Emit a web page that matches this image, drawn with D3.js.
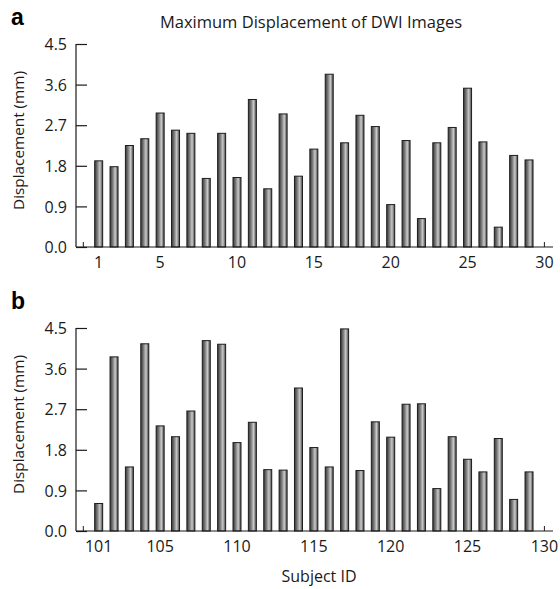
<!DOCTYPE html>
<html>
<head>
<meta charset="utf-8">
<script src="https://cdn.jsdelivr.net/npm/d3@7"></script>
<style>
  body { margin: 0; background: #fff; }
  svg text { font-family: "Open Sans", sans-serif; fill: #1a1a1a; }
</style>
</head>
<body>
<svg id="chart" width="560" height="589"></svg>
<script>
// subject ids 1..29 and 101..129
const idsA = d3.range(1, 30);
const valuesA = [1.91, 1.78, 2.25, 2.40, 2.97, 2.59, 2.52, 1.52, 2.52, 1.54,
                 3.27, 1.29, 2.95, 1.57, 2.17, 3.83, 2.31, 2.92, 2.67, 0.94,
                 2.36, 0.63, 2.31, 2.65, 3.52, 2.33, 0.44, 2.03, 1.93];
const idsB = d3.range(101, 130);
const valuesB = [0.61, 3.86, 1.42, 4.15, 2.33, 2.09, 2.66, 4.22, 4.14, 1.96,
                 2.41, 1.36, 1.35, 3.17, 1.85, 1.42, 4.48, 1.34, 2.42, 2.08,
                 2.81, 2.82, 0.94, 2.09, 1.59, 1.31, 2.05, 0.70, 1.31];
const yTicks = [0, 0.9, 1.8, 2.7, 3.6, 4.5];
const xTicksA = [1, 5, 10, 15, 20, 25, 30];
const xTicksB = [101, 105, 110, 115, 120, 125, 130];

const svg = d3.select("#chart");

// cylinder-like shading for the bars
const grad = svg.append("defs").append("linearGradient")
    .attr("id", "barShade")
    .attr("x1", "0%").attr("x2", "100%");
grad.append("stop").attr("offset", "0%").attr("stop-color", "#363636");
grad.append("stop").attr("offset", "35%").attr("stop-color", "#7e7e7e");
grad.append("stop").attr("offset", "65%").attr("stop-color", "#cacaca");
grad.append("stop").attr("offset", "100%").attr("stop-color", "#444");

function panel(opts) {
    const x0 = opts.start - 1;
    const x = d3.scaleLinear().domain([x0, x0 + 30]).range([83.3, 544.4]);
    const y = d3.scaleLinear().domain([0, 4.5]).range([opts.bottom, opts.bottom - 203]);
    const g = svg.append("g");
    const bw = 8;

    g.selectAll("rect.bar")
        .data(opts.ids.map((id, i) => ({id: id, v: opts.values[i]})))
        .enter()
        .append("rect")
        .attr("class", "bar")
        .attr("x", d => x(d.id) - bw / 2)
        .attr("y", d => y(d.v))
        .attr("width", bw)
        .attr("height", d => y(0) - y(d.v))
        .attr("fill", "url(#barShade)")
        .attr("stroke", "#1e1e1e")
        .attr("stroke-width", 1);

    // y axis, ticks pointing inward
    const yAxis = d3.axisRight(y)
        .tickValues(yTicks)
        .tickSize(11)
        .tickFormat(d3.format(".1f"));
    const ya = g.append("g").attr("transform", "translate(76,0)").call(yAxis);
    ya.select(".domain").remove();
    ya.selectAll(".tick line").attr("stroke", "#1a1a1a").attr("stroke-width", 1.2);
    ya.selectAll(".tick text")
        .attr("x", -9)
        .attr("dy", "0.36em")
        .attr("text-anchor", "end")
        .style("font-size", "16px");
    g.append("line")
        .attr("x1", 76).attr("x2", 76)
        .attr("y1", y(4.5)).attr("y2", y(0))
        .attr("stroke", "#1a1a1a").attr("stroke-width", 1.2);

    // x axis line with small ticks at the ends
    g.append("line")
        .attr("x1", 76).attr("x2", 553)
        .attr("y1", y(0)).attr("y2", y(0))
        .attr("stroke", "#1a1a1a").attr("stroke-width", 1.2);
    g.selectAll("line.endtick")
        .data([x0, x0 + 30])
        .enter()
        .append("line")
        .attr("class", "endtick")
        .attr("x1", d => x(d)).attr("x2", d => x(d))
        .attr("y1", y(0)).attr("y2", y(0) - 5)
        .attr("stroke", "#1a1a1a").attr("stroke-width", 1);
    g.selectAll("text.xlab")
        .data(opts.xTicks)
        .enter()
        .append("text")
        .attr("class", "xlab")
        .attr("x", d => x(d))
        .attr("y", y(0) + 21)
        .attr("text-anchor", "middle")
        .style("font-size", "16px")
        .text(d => d);

    g.append("text")
        .attr("transform", "translate(24," + (y(2.25) - 5) + ") rotate(-90)")
        .attr("text-anchor", "middle")
        .style("font-size", "15.3px")
        .text("Displacement (mm)");

    g.append("text")
        .attr("x", 11).attr("y", opts.bottom - 222)
        .style("font-family", "'Liberation Sans', Arial, sans-serif")
        .style("font-weight", "bold")
        .style("font-size", "23px")
        .style("fill", "#000")
        .text(opts.letter);
}

panel({ids: idsA, values: valuesA, start: 1, bottom: 247, xTicks: xTicksA, letter: "a"});
panel({ids: idsB, values: valuesB, start: 101, bottom: 531, xTicks: xTicksB, letter: "b"});

svg.append("text")
    .attr("x", 311).attr("y", 28)
    .attr("text-anchor", "middle")
    .style("font-size", "16.5px")
    .text("Maximum Displacement of DWI Images");

svg.append("text")
    .attr("x", 319).attr("y", 582)
    .attr("text-anchor", "middle")
    .style("font-size", "16px")
    .text("Subject ID");
</script>
</body>
</html>
